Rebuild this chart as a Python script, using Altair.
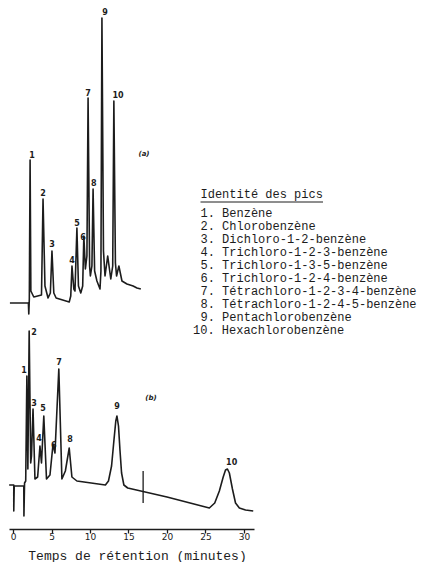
import altair as alt
import pandas as pd

# ---- chromatogram (a): time (min, same scale as b) and detector signal (arbitrary units)
a_t = [-0.4, 2.0, 2.05, 2.12, 2.22, 2.32, 2.7, 3.7, 3.9, 4.15, 4.55, 4.85, 5.06, 5.3, 5.6,
       7.3, 7.5, 7.66, 7.9, 8.05, 8.3, 8.5, 8.8, 9.05, 9.2, 9.4, 9.6, 9.75, 9.95, 10.05,
       10.25, 10.4, 10.6, 10.9, 11.3, 11.42, 11.55, 11.75, 11.95, 12.3, 12.7, 12.95, 13.1,
       13.3, 13.45, 13.75, 14.15, 14.8, 15.6, 16.1, 16.6]
a_s = [226, 226, 215, 230, 369, 238, 232, 234, 330, 243, 231, 236, 278, 236, 231,
       227, 233, 263, 240, 238, 301, 243, 236, 243, 293, 260, 273, 431, 263, 253,
       263, 340, 258, 248, 240, 258, 511, 278, 253, 273, 250, 263, 428,
       266, 253, 263, 248, 245, 243, 241, 240]

# ---- chromatogram (b)
b_t = [-0.5, 0.1, 0.1, 0.16, 1.4, 1.42, 1.5, 1.65, 1.8, 1.93, 2.1, 2.3, 2.4, 2.6, 2.85,
       3.2, 3.5, 3.7, 4.0, 4.35, 4.8, 5.2, 5.45, 5.95, 6.35, 6.8, 7.3, 7.65, 8.3, 12.0,
       12.4, 12.8, 13.1, 13.35, 13.5, 13.7, 13.9, 14.1, 14.4, 14.9, 20.0, 25.5, 26.2,
       26.8, 27.3, 27.6, 27.85, 28.1, 28.5, 28.9, 29.4, 30.2, 31.2]
b_s = [44, 44, 18, 43, 43, 13, 46, 48, 153, 60, 198, 66, 73, 120, 50,
       52, 83, 66, 113, 50, 54, 85, 76, 160, 50, 58, 81, 52, 48, 44,
       48, 63, 88, 108, 113, 103, 78, 56, 44, 41, 32, 21, 26,
       38, 52, 59, 60, 56, 40, 26, 21, 19, 18]

# ---- peak labels
a_lab = ["1", "2", "3", "4", "5", "6", "7", "8", "9", "10"]
a_lab_t = [2.47, 3.9, 5.06, 7.66, 8.31, 9.1, 9.74, 10.5, 11.95, 13.64]
a_lab_s = [373, 335, 284, 268, 305, 291, 435, 345, 516, 433]
b_lab = ["1", "2", "3", "4", "5", "6", "7", "8", "9", "10"]
b_lab_t = [1.43, 2.73, 2.73, 3.38, 3.9, 5.3, 5.97, 7.4, 13.5, 28.4]
b_lab_s = [158, 196, 125, 90, 120, 83, 166, 89, 122, 66]

# marker on trace (b)
mark_t = [16.9]
mark_s1 = [58]
mark_s2 = [26]

x_ticks = [0, 5, 10, 15, 20, 25, 30]

legend_title = "Identité des pics"
names = ["Benzène", "Chlorobenzène", "Dichloro-1-2-benzène", "Trichloro-1-2-3-benzène",
         "Trichloro-1-3-5-benzène", "Trichloro-1-2-4-benzène",
         "Tétrachloro-1-2-3-4-benzène", "Tétrachloro-1-2-4-5-benzène",
         "Pentachlorobenzène", "Hexachlorobenzène"]
x_title = "Temps de rétention (minutes)"

INK = "#1c1c1c"
MONO = "Liberation Mono"

traces = pd.concat([
    pd.DataFrame({"t": a_t, "s": a_s, "trace": "a", "o": range(len(a_t))}),
    pd.DataFrame({"t": b_t, "s": b_s, "trace": "b", "o": range(len(b_t))}),
])
labels = pd.concat([
    pd.DataFrame({"t": a_lab_t, "s": a_lab_s, "lab": a_lab}),
    pd.DataFrame({"t": b_lab_t, "s": b_lab_s, "lab": b_lab}),
])

xs = alt.Scale(domain=[-0.52, 31.3], nice=False, zero=False)
ys = alt.Scale(domain=[0, 520], nice=False, zero=False)
x_axis = alt.Axis(values=x_ticks, title=x_title, grid=False,
                  titleX=128, titleY=26, titleAlign="center",
                  titleBaseline="middle", titleAnchor="start")
X = alt.X("t:Q", scale=xs, axis=x_axis)
Y = alt.Y("s:Q", scale=ys, axis=None)

lines = alt.Chart(traces).mark_line(color=INK, strokeWidth=1.6, strokeJoin="round").encode(
    x=X, y=Y, detail="trace:N", order="o:Q",
)

peaklabels = alt.Chart(labels).mark_text(
    font="DejaVu Sans", fontSize=8, fontWeight="bold", color=INK, baseline="middle"
).encode(x=X, y=Y, text="lab:N")

marker = alt.Chart(pd.DataFrame({"t": mark_t, "s": mark_s1, "s2": mark_s2})).mark_rule(
    color=INK, strokeWidth=1.3
).encode(x=X, y=Y, y2="s2:Q")

tag_style = dict(font="DejaVu Sans", fontSize=7, fontStyle="italic", fontWeight="bold",
                 color=INK, baseline="middle")
tag_a = alt.Chart(pd.DataFrame({"tag": ["(a)"]})).mark_text(**tag_style).encode(
    x=alt.value(135), y=alt.value(145), text="tag:N")
tag_b = alt.Chart(pd.DataFrame({"tag": ["(b)"]})).mark_text(**tag_style).encode(
    x=alt.value(142), y=alt.value(389), text="tag:N")

leg = pd.DataFrame({"name": names, "idx": list(range(len(names)))})
leg["line"] = [f"{i + 1}. {n}" for i, n in enumerate(names)]

leg_lines = alt.Chart(leg).transform_calculate(
    py="204 + 13 * datum.idx", px="datum.idx >= 9 ? 184 : 191.5"
).mark_text(font=MONO, fontSize=12, color=INK, align="left", baseline="middle").encode(
    x=alt.X("px:Q", scale=None, axis=None),
    y=alt.Y("py:Q", scale=None, axis=None),
    text="line:N",
)
leg_title = alt.Chart(pd.DataFrame({"title": [legend_title]})).mark_text(
    font=MONO, fontSize=12, color=INK, align="left", baseline="middle"
).encode(x=alt.value(191.5), y=alt.value(185), text="title:N")
leg_line = alt.Chart(pd.DataFrame({"k": [0]})).mark_rule(color=INK, strokeWidth=1).encode(
    x=alt.value(191.5), x2=alt.value(314), y=alt.value(193)
)

chart = alt.layer(
    lines, marker, peaklabels, tag_a, tag_b, leg_title, leg_line, leg_lines
).properties(
    width=245, height=520, padding=0
).configure_view(stroke=None).configure_axis(
    domainColor=INK, domainWidth=1.5, tickColor=INK, tickWidth=1.3, tickSize=4,
    labelPadding=-1, labelFont="DejaVu Sans", labelFontSize=9, labelColor=INK,
    titleFont=MONO, titleFontSize=13, titleFontWeight="normal", titleColor=INK,
)

chart.save("out.html", embed_options={"renderer": "svg", "actions": False})
